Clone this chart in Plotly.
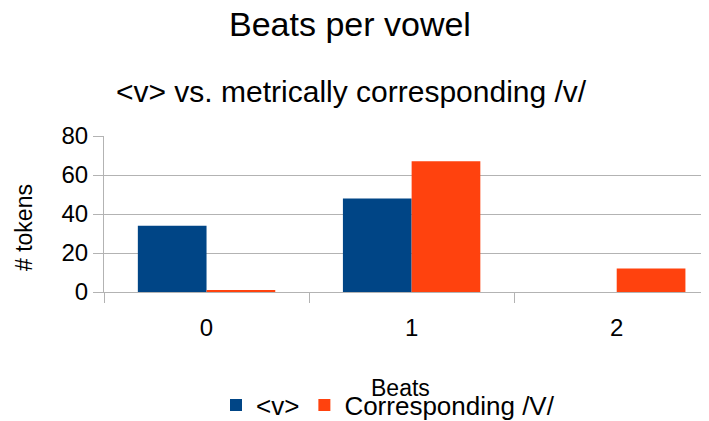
import plotly.graph_objects as go

categories = ["0", "1", "2"]
v_values = [34, 48, 0]
corr_values = [1, 67, 12]
series_names = ["<v>", "Corresponding /V/"]
colors = ["#004586", "#ff420e"]

xpos = list(range(len(categories)))
font = "Liberation Sans, Arial, sans-serif"

# page body has an 8px margin; lay out in page pixels and convert
OFF = 8
W, H = 709 - OFF, 421 - OFF
l, r, t, b = 104 - OFF, 0, 136 - OFF, 421 - 292
pw, ph = W - l - r, H - t - b
def px_to_paper(xp, yp):
    xp -= OFF
    yp -= OFF
    return (xp - l) / pw, (H - b - yp) / ph

fig = go.Figure()
fig.add_trace(go.Bar(x=xpos, y=v_values, name=series_names[0], marker=dict(color=colors[0], line=dict(width=0))))
fig.add_trace(go.Bar(x=xpos, y=corr_values, name=series_names[1], marker=dict(color=colors[1], line=dict(width=0))))

grid = "#b3b3b3"
lx, ly = px_to_paper(388, 405)
fig.update_layout(
    width=W, height=H,
    margin=dict(l=l, r=r, t=t, b=b, autoexpand=False),
    paper_bgcolor="white", plot_bgcolor="white",
    font=dict(family=font, color="black"),
    barmode="group", bargap=0.33, bargroupgap=0,
    showlegend=True,
    legend=dict(orientation="h", x=lx, xanchor="center", y=ly, yanchor="middle",
                font=dict(size=26, family=font), traceorder="normal",
                bgcolor="rgba(0,0,0,0)"),
    xaxis=dict(range=[-0.5, 2.45], tickvals=xpos, ticktext=categories, ticks="",
               tickfont=dict(size=24), ticklabelstandoff=14, automargin=False,
               showgrid=False, zeroline=False, showline=True, linecolor=grid, linewidth=1,
               minor=dict(tickvals=[-0.5, 0.5, 1.5], ticks="outside", ticklen=10, tickcolor=grid, showgrid=False)),
    yaxis=dict(range=[0, 80], tickvals=[0, 20, 40, 60, 80], tickfont=dict(size=24), automargin=False,
               ticks="outside", ticklen=10, tickcolor=grid, showgrid=True, gridcolor=grid,
               zeroline=False, showline=True, linecolor=grid, linewidth=1),
)

x1, y1 = px_to_paper(350, 24)
x2, y2 = px_to_paper(351, 92)
xb, yb = px_to_paper(400, 388)
xy, yy = px_to_paper(24, 228)
fig.add_annotation(text="Beats per vowel", x=x1, y=y1, xref="paper", yref="paper",
                   xanchor="center", yanchor="middle", showarrow=False, font=dict(size=34, family=font))
fig.add_annotation(text="&lt;v&gt; vs. metrically corresponding /v/", x=x2, y=y2, xref="paper", yref="paper",
                   xanchor="center", yanchor="middle", showarrow=False, font=dict(size=30, family=font))
fig.add_annotation(text="Beats", x=xb, y=yb, xref="paper", yref="paper",
                   xanchor="center", yanchor="middle", showarrow=False, font=dict(size=23, family=font))
fig.add_annotation(text="# tokens", x=xy, y=yy, xref="paper", yref="paper", textangle=-90,
                   xanchor="center", yanchor="middle", showarrow=False, font=dict(size=23, family=font))

fig.write_html("out.html")
